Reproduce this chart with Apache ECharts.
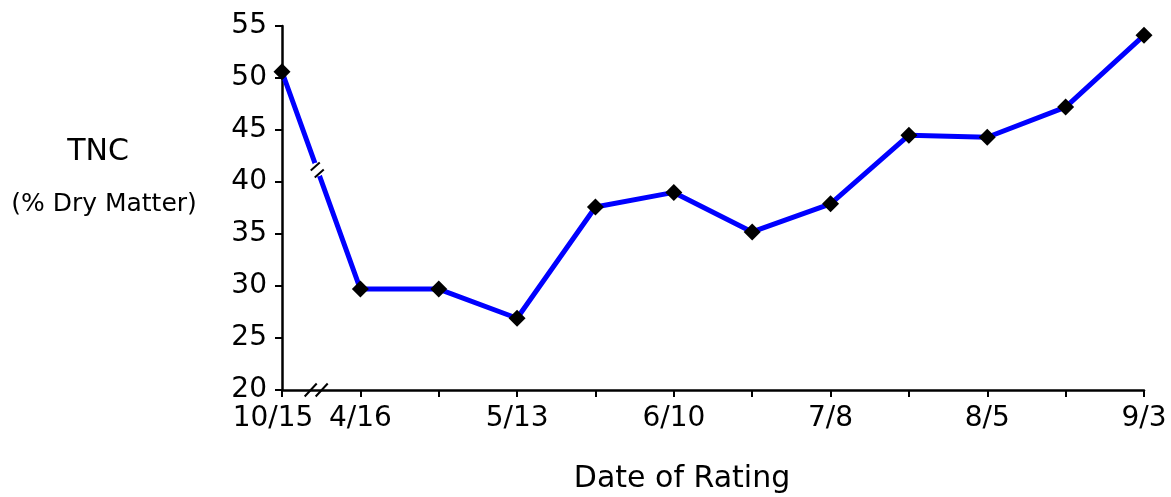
<!DOCTYPE html>
<html>
<head>
<meta charset="utf-8">
<title>TNC</title>
<script src="https://cdn.jsdelivr.net/npm/echarts@6/dist/echarts.min.js"></script>
<style>
  html, body { margin: 0; padding: 0; background: #fff; }
  #main { width: 1171px; height: 497px; }
</style>
</head>
<body>
<div id="main"></div>
<script type="text/javascript">
    // data
    const tickLabels = ['10/15', '4/16', '', '5/13', '', '6/10', '', '7/8', '', '8/5', '', '9/3'];
    const tncValues = [50.6, 29.7, 29.7, 26.9, 37.6, 39.0, 35.2, 37.9, 44.5, 44.3, 47.2, 54.1];
    const yTicks = { min: 20, max: 55, step: 5 };

    const font = 'DejaVu Sans';
    const chart = echarts.init(document.getElementById('main'));

    chart.setOption({
        animation: false,
        backgroundColor: '#fff',
        grid: {
            left: 282,
            right: 27,
            top: 26,
            bottom: 107,
            containLabel: false,
            outerBoundsMode: 'none'
        },
        xAxis: {
            type: 'category',
            boundaryGap: false,
            data: tickLabels.map(function (t, i) { return 'c' + i; }),
            axisLine: { lineStyle: { color: '#000', width: 2.5 } },
            axisTick: { show: true, interval: 0, length: 7, lineStyle: { color: '#000', width: 2 } },
            axisLabel: {
                interval: 0,
                margin: 15,
                color: '#000',
                fontFamily: font,
                fontSize: 28,
                formatter: function (v, i) {
                    return i === 0 ? '{l|' + tickLabels[i] + '}' : tickLabels[i];
                },
                rich: {
                    l: { fontFamily: font, fontSize: 28, color: '#000', padding: [0, 18, 0, 0] }
                }
            },
            splitLine: { show: false }
        },
        yAxis: {
            type: 'value',
            min: yTicks.min,
            max: yTicks.max,
            interval: yTicks.step,
            axisLine: { show: true, lineStyle: { color: '#000', width: 2.5 } },
            axisTick: { show: true, length: 7, lineStyle: { color: '#000', width: 2 } },
            axisLabel: { margin: 15, color: '#000', fontFamily: font, fontSize: 28 },
            splitLine: { show: false }
        },
        series: [{
            type: 'line',
            data: tncValues,
            symbol: 'diamond',
            symbolSize: 17,
            itemStyle: { color: '#000' },
            lineStyle: { color: '#0000ff', width: 5 },
            z: 3
        }]
    });

    // axis titles and the "//" break marks, placed from the chart's own scales
    const p0 = chart.convertToPixel({ seriesIndex: 0 }, [0, tncValues[0]]);
    const p1 = chart.convertToPixel({ seriesIndex: 0 }, [1, tncValues[1]]);
    const axisY = chart.convertToPixel({ yAxisIndex: 0 }, yTicks.min);
    const t = 0.45;
    const bx = p0[0] + (p1[0] - p0[0]) * t;
    const by = p0[1] + (p1[1] - p0[1]) * t;
    const ax = p0[0] + (p1[0] - p0[0]) * 0.43;

    function slash(x, y, w, h) {
        return {
            type: 'line',
            shape: { x1: x - w / 2, y1: y + h / 2, x2: x + w / 2, y2: y - h / 2 },
            style: { stroke: '#000', lineWidth: 2 },
            z: 10
        };
    }

    chart.setOption({
        graphic: [
            {
                type: 'text', x: 98, y: 152,
                style: { text: 'TNC', font: '30px "DejaVu Sans"', fill: '#000', align: 'center', verticalAlign: 'middle' }
            },
            {
                type: 'text', x: 104, y: 204,
                style: { text: '(% Dry Matter)', font: '25px "DejaVu Sans"', fill: '#000', align: 'center', verticalAlign: 'middle' }
            },
            {
                type: 'text', x: 682, y: 479,
                style: { text: 'Date of Rating', font: '30px "DejaVu Sans"', fill: '#000', align: 'center', verticalAlign: 'middle' }
            },
            // gap in the line
            {
                type: 'circle', shape: { cx: bx, cy: by, r: 7 },
                style: { fill: '#fff' }, z: 9
            },
            slash(bx - 2, by - 3, 9, 8),
            slash(bx + 2, by + 4, 9, 8),
            // break on the x axis
            slash(ax - 5, axisY, 12, 13),
            slash(ax + 6, axisY, 12, 13)
        ]
    });
</script>
</body>
</html>
